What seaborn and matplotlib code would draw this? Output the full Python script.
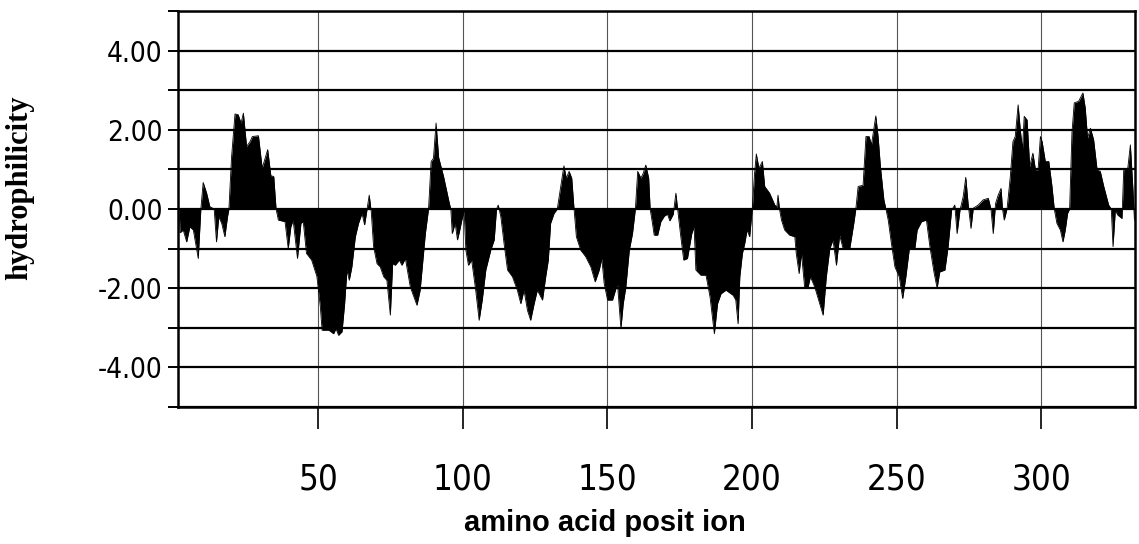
import matplotlib
matplotlib.use("Agg")
import matplotlib.pyplot as plt
import seaborn as sns
import pandas as pd
from matplotlib.ticker import MultipleLocator, FixedLocator, FormatStrFormatter

# hydrophilicity profile (residue position, value)
position = [
    2.0, 2.3, 3.4, 4.6, 5.7, 6.9, 8.6, 9.5, 10.3, 11.5, 12.6, 14.1, 14.9, 15.7, 16.7, 17.8, 18.7, 19.2,
    20.1, 21.3, 22.4, 23.4, 24.2, 25.3, 26.5, 27.3, 29.4, 30.7, 32.6, 33.7, 34.7, 35.5, 36.3, 38.6,
    39.7, 40.6, 41.4, 42.9, 44.1, 44.9, 46.0, 47.8, 49.6, 50.8, 51.4, 53.7, 55.4, 56.2, 57.1, 58.3,
    59.2, 60.0, 60.8, 61.7, 62.9, 64.0, 65.2, 66.1, 66.9, 67.7, 68.4, 69.2, 70.4, 71.5, 72.7, 73.8,
    75.0, 75.8, 76.7, 78.1, 79.0, 80.2, 81.9, 84.2, 85.3, 87.1, 88.2, 89.1, 89.9, 90.8, 91.7, 93.4,
    95.4, 95.9, 96.4, 97.4, 98.2, 99.0, 99.7, 100.5, 101.1, 102.0, 103.1, 104.5, 105.7, 106.8, 108.0,
    109.7, 110.9, 111.7, 112.3, 113.2, 114.3, 115.5, 117.2, 118.9, 120.1, 121.2, 122.4, 123.5, 124.7,
    125.8, 127.6, 128.7, 129.6, 130.4, 131.6, 132.7, 133.9, 135.0, 135.8, 136.8, 137.7, 138.5, 139.3,
    140.8, 142.5, 144.3, 145.8, 147.2, 148.1, 148.9, 150.1, 151.8, 153.5, 154.7, 155.5, 156.4, 157.6,
    158.7, 159.7, 160.5, 161.6, 162.4, 163.3, 164.3, 164.8, 165.6, 166.2, 167.4, 168.5, 169.7, 170.8,
    171.6, 172.8, 173.7, 174.3, 175.4, 176.4, 177.7, 179.2, 180.0, 180.6, 182.3, 184.1, 185.5, 187.0,
    188.1, 189.3, 191.0, 193.5, 194.4, 195.2, 195.8, 196.7, 197.5, 198.3, 199.2, 200.1, 200.9, 201.5,
    202.4, 203.6, 204.4, 206.1, 207.9, 208.6, 209.0, 209.5, 210.2, 211.3, 213.0, 214.8, 215.3, 216.3,
    217.1, 218.2, 219.4, 220.2, 221.7, 223.4, 224.6, 225.7, 226.9, 228.0, 229.2, 230.3, 231.5, 233.8,
    235.2, 235.9, 236.7, 238.4, 239.4, 240.5, 241.3, 242.8, 243.6, 244.4, 245.6, 246.3, 247.1, 248.2,
    249.4, 250.9, 252.1, 253.2, 254.4, 256.3, 257.1, 258.6, 260.3, 261.5, 262.9, 264.0, 264.9, 266.7,
    267.8, 269.0, 270.1, 270.9, 271.9, 273.0, 273.9, 274.7, 275.7, 276.5, 278.2, 279.9, 281.7, 282.6,
    283.4, 284.2, 285.1, 286.1, 286.6, 287.2, 288.2, 289.3, 290.2, 291.0, 292.0, 292.8, 293.5, 294.1,
    295.1, 296.0, 297.1, 298.0, 298.9, 299.7, 300.3, 301.4, 302.6, 303.7, 304.5, 305.4, 306.6, 307.5,
    308.3, 309.1, 309.8, 310.6, 311.4, 312.9, 314.4, 315.2, 316.0, 317.0, 318.1, 319.3, 320.4, 321.6,
    323.3, 324.2, 324.8, 325.6, 326.4, 327.9, 328.5, 329.9, 330.8, 331.7, 332.2,
]
hydrophilicity = [
    0.0, -0.6, -0.53, -0.83, -0.45, -0.53, -1.25, 0.0, 0.67, 0.4, 0.06, 0.0, -0.83, -0.2, -0.36, -0.7, -0.2, 0.0,
    1.3, 2.4, 2.38, 2.17, 2.42, 1.58, 1.7, 1.83, 1.85, 1.03, 1.5, 0.84, 0.82, 0.0, -0.28, -0.32,
    -1.0, -0.45, -0.28, -1.25, -0.36, -0.32, -1.12, -1.29, -1.7, -2.47, -3.06, -3.06, -3.15, -3.02, -3.19, -3.1,
    -2.39, -1.54, -1.8, -1.46, -0.7, -0.36, -0.11, -0.4, -0.03, 0.35, -0.07, -0.95, -1.38, -1.46, -1.71, -1.8,
    -2.68, -1.38, -1.42, -1.29, -1.42, -1.25, -1.97, -2.43, -2.05, -0.62, 0.0, 1.2, 1.28, 2.17, 1.3, 0.82,
    0.14, 0.0, -0.62, -0.36, -0.78, -0.53, -0.28, -0.05, -1.04, -1.42, -1.29, -2.05, -2.81, -2.28, -1.54,
    -1.04, -0.78, 0.0, 0.1, -0.2, -0.87, -1.54, -1.71, -2.05, -2.39, -2.05, -2.56, -2.81, -2.39,
    -2.05, -2.3, -1.71, -1.29, -0.36, -0.11, 0.0, 0.57, 1.09, 0.78, 0.95, 0.78, 0.0, -0.7,
    -1.04, -1.2, -1.46, -1.84, -1.54, -1.25, -1.88, -2.3, -2.3, -1.88, -3.02, -2.39, -1.97, -1.04,
    -0.62, 0.0, 0.95, 0.78, 0.9, 1.11, 0.78, 0.0, -0.36, -0.66, -0.66, -0.32, -0.18, -0.13,
    -0.3, -0.13, 0.4, 0.0, -0.7, -1.29, -1.25, -0.62, -0.45, -1.54, -1.67, -1.67, -2.22, -3.15,
    -2.39, -2.14, -2.05, -2.18, -2.3, -2.9, -1.71, -1.12, -0.87, -0.53, -0.7, 0.0, 0.9, 1.39,
    1.03, 1.2, 0.57, 0.4, 0.1, 0.05, 0.35, 0.0, -0.28, -0.53, -0.66, -0.7, -1.12, -1.63,
    -1.12, -1.97, -1.97, -1.71, -1.97, -2.39, -2.68, -1.71, -1.0, -0.78, -1.42, -0.66, -1.0, -1.0,
    -0.36, 0.0, 0.57, 0.6, 1.83, 1.83, 1.62, 2.35, 1.83, 1.07, 0.23, 0.0, -0.28, -0.87,
    -1.46, -1.71, -2.26, -1.71, -1.0, -1.0, -0.53, -0.32, -0.28, -0.95, -1.59, -2.0, -1.59, -1.54,
    -0.95, -0.03, 0.1, -0.62, -0.03, 0.31, 0.8, 0.14, -0.49, 0.02, 0.1, 0.23, 0.27, 0.0,
    -0.62, 0.14, 0.35, 0.52, 0.0, -0.28, 0.02, 0.82, 1.7, 1.83, 2.63, 1.96, 1.5, 2.34,
    2.25, 1.07, 1.41, 0.99, 0.99, 1.83, 1.7, 1.2, 1.2, 0.57, 0.0, -0.36, -0.53, -0.83,
    -0.53, -0.11, 0.0, 1.92, 2.68, 2.72, 2.93, 2.55, 1.79, 2.04, 1.75, 0.99, 0.95, 0.57,
    0.1, 0.0, -0.95, -0.03, -0.15, -0.24, 0.99, 1.03, 1.62, 0.48, -0.28,
]
x_ticks = [50, 100, 150, 200, 250, 300]
y_ticks = [-4, -2, 0, 2, 4]

df = pd.DataFrame({"pos": position, "hyd": hydrophilicity})

sns.set_style("white")

fig = plt.figure(figsize=(11.39, 5.44), dpi=100)
ax = fig.add_axes([178 / 1139, 1 - 407 / 544, 957 / 1139, 396 / 544])

ax.fill_between(df["pos"], df["hyd"], 0, color="black", lw=0, zorder=3)
sns.lineplot(data=df, x="pos", y="hyd", estimator=None, sort=False,
             color="black", lw=0.6, ax=ax, zorder=3)

ax.set_xlim(1.6, 332.4)
ax.set_ylim(-5, 5)

# gridlines: every unit on y, every 50 on x
ax.yaxis.set_major_locator(FixedLocator(y_ticks))
ax.yaxis.set_minor_locator(MultipleLocator(1))
ax.yaxis.set_major_formatter(FormatStrFormatter("%.2f"))
ax.xaxis.set_major_locator(FixedLocator(x_ticks))
ax.grid(which="both", axis="y", color="black", lw=1.6, zorder=1)
ax.grid(which="major", axis="x", color="#555555", lw=0.8, zorder=1)

ax.tick_params(axis="y", which="both", direction="out", length=7, width=1.4,
               left=True, pad=4, labelsize=20, colors="black")
ax.tick_params(axis="x", which="major", direction="out", length=16, width=1.2,
               bottom=True, pad=24, labelsize=25, colors="black")
# tall narrow digits -> condensed face
for lab in ax.get_xticklabels() + ax.get_yticklabels():
    lab.set_family(["DejaVu Sans", "Liberation Sans"])
    lab.set_fontstretch("condensed")
    lab.set_fontweight("light")

for s in ax.spines.values():
    s.set_visible(True)
    s.set_color("black")
    s.set_linewidth(1.8)

ax.set_xlabel("amino acid posit ion", fontsize=21, fontweight="bold", color="black",
              family=["Liberation Sans", "DejaVu Sans"])
ax.xaxis.set_label_coords((605 - 178) / 957, (407 - 523) / 396)
ax.xaxis.label.set_va("center")
ax.set_ylabel("hydrophilicity", fontsize=22, fontweight="bold", color="black",
              family=["Liberation Serif", "DejaVu Serif"])
ax.yaxis.set_label_coords((20 - 178) / 957, (407 - 188) / 396)
ax.yaxis.label.set_va("center")

fig.savefig("out.png", dpi=100)
